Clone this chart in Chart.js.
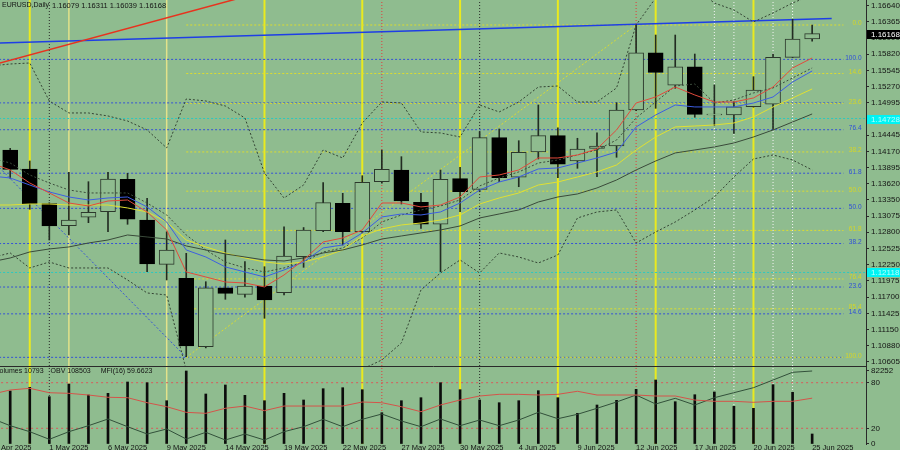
<!DOCTYPE html>
<html>
<head>
<meta charset="utf-8">
<script src="https://cdn.jsdelivr.net/npm/chart.js@4/dist/chart.umd.min.js"></script>
<style>
  html, body { margin: 0; padding: 0; background: #8fbc8f; }
  #wrap { position: relative; width: 900px; height: 450px; overflow: hidden; background: #8fbc8f; }
  #main { position: absolute; left: 0; top: 0; }
  #sub { position: absolute; left: 0; top: 367px; }
</style>
</head>
<body>
<div id="wrap">
  <canvas id="main" width="900" height="367"></canvas>
  <canvas id="sub" width="900" height="83"></canvas>
</div>
<script>
const symbolName = 'EURUSD,Daily';

// daily bars, index 0 = 29 Apr 2025 ... 41 = 25 Jun 2025
const openP = [1.14194, 1.13872, 1.13284, 1.12911, 1.13054, 1.13148, 1.13698, 1.13008, 1.12257, 1.12020,
  1.10860, 1.11860, 1.11748, 1.11889, 1.11776, 1.12386, 1.12826, 1.13291, 1.12809, 1.13657,
  1.13855, 1.13308, 1.12935, 1.13708, 1.13528, 1.14403, 1.13732, 1.14160, 1.14437, 1.14008,
  1.14223, 1.14262, 1.14872, 1.15843, 1.15291, 1.15606, 1.14790, 1.14787, 1.14928, 1.14969,
  1.15765, 1.16079];
const highP = [1.14223, 1.14008, 1.13300, 1.13816, 1.13657, 1.13816, 1.13799, 1.13376, 1.12809, 1.12443,
  1.11962, 1.12669, 1.12301, 1.12216, 1.12894, 1.12880, 1.13640, 1.13460, 1.13759, 1.14194,
  1.14081, 1.13460, 1.13855, 1.13901, 1.14504, 1.14550, 1.14352, 1.14957, 1.14572, 1.14393,
  1.14487, 1.14996, 1.16313, 1.16143, 1.16143, 1.15821, 1.15296, 1.15013, 1.15437, 1.15821,
  1.16409, 1.16311];
const lowP = [1.13715, 1.13189, 1.12669, 1.12754, 1.12962, 1.12809, 1.12935, 1.12132, 1.11991, 1.10691,
  1.10840, 1.11664, 1.11698, 1.11342, 1.11737, 1.12206, 1.12809, 1.12584, 1.12790, 1.13630,
  1.13279, 1.12867, 1.12132, 1.13148, 1.13487, 1.13657, 1.13572, 1.14042, 1.13725, 1.13884,
  1.13742, 1.14071, 1.14860, 1.14901, 1.15240, 1.14749, 1.14606, 1.14477, 1.14920, 1.14545,
  1.15760, 1.16039];
const closeP = [1.13867, 1.13279, 1.12906, 1.13008, 1.13138, 1.13703, 1.13020, 1.12262, 1.12499, 1.10872,
  1.11860, 1.11765, 1.11889, 1.11652, 1.12398, 1.12838, 1.13301, 1.12809, 1.13647, 1.13867,
  1.13330, 1.12935, 1.13698, 1.13487, 1.14403, 1.13725, 1.14155, 1.14437, 1.13952, 1.14211,
  1.14262, 1.14872, 1.15843, 1.15511, 1.15606, 1.14799, 1.14805, 1.14928, 1.15211, 1.15765,
  1.16076, 1.16168];
const volumes = [59560, 63760, 53100, 67500, 55020, 56950, 69770, 68980, 48560, 82252,
  56160, 66370, 54680, 48560, 56950, 49350, 62170, 63300, 61040, 34940,
  48560, 51960, 68980, 61040, 49350, 46290, 48560, 59900, 51960, 34260,
  43680, 49010, 61490, 72040, 47420, 55360, 58430, 42200, 39930, 66710,
  58090, 10793];

// indicator lines start one bar earlier (index -1)
const lineStart = -1;
const maRed = [1.13974, 1.13856, 1.13635, 1.13466, 1.13296, 1.13246, 1.13330, 1.13347, 1.13144, 1.12839,
  1.12127, 1.12042, 1.11957, 1.11940, 1.11873, 1.12076, 1.12330, 1.12635, 1.12703, 1.12839,
  1.13296, 1.13296, 1.13229, 1.13262, 1.13398, 1.13737, 1.13771, 1.13856, 1.14059, 1.14059,
  1.14110, 1.14212, 1.14534, 1.14991, 1.15093, 1.15262, 1.15127, 1.15008, 1.15008, 1.15076,
  1.15262, 1.15585, 1.15754];
const maBlue = [1.13754, 1.13720, 1.13601, 1.13483, 1.13398, 1.13347, 1.13381, 1.13398, 1.13229, 1.12974,
  1.12500, 1.12381, 1.12212, 1.12127, 1.12042, 1.12161, 1.12296, 1.12534, 1.12585, 1.12788,
  1.13059, 1.13110, 1.13093, 1.13144, 1.13296, 1.13517, 1.13652, 1.13737, 1.13873, 1.13890,
  1.13974, 1.14059, 1.14161, 1.14585, 1.14788, 1.14957, 1.14924, 1.14924, 1.14924, 1.14991,
  1.15093, 1.15347, 1.15534];
const maYellow = [1.13262, 1.13262, 1.13279, 1.13279, 1.13262, 1.13262, 1.13262, 1.13212, 1.13144, 1.12974,
  1.12669, 1.12551, 1.12449, 1.12364, 1.12296, 1.12262, 1.12296, 1.12381, 1.12500, 1.12737,
  1.12856, 1.12924, 1.12957, 1.13008, 1.13093, 1.13279, 1.13381, 1.13466, 1.13601, 1.13652,
  1.13737, 1.13822, 1.13940, 1.14195, 1.14415, 1.14585, 1.14601, 1.14618, 1.14652, 1.14754,
  1.14924, 1.15076, 1.15229];
const maDark = [1.12296, 1.12364, 1.12466, 1.12517, 1.12551, 1.12618, 1.12669, 1.12754, 1.12720, 1.12686,
  1.12568, 1.12500, 1.12432, 1.12381, 1.12330, 1.12313, 1.12364, 1.12449, 1.12500, 1.12585,
  1.12686, 1.12737, 1.12788, 1.12839, 1.12907, 1.13042, 1.13110, 1.13178, 1.13313, 1.13398,
  1.13449, 1.13551, 1.13686, 1.13856, 1.14008, 1.14144, 1.14195, 1.14246, 1.14313, 1.14415,
  1.14534, 1.14669, 1.14805];
const bandUpper = [1.15618, 1.15652, 1.15669, 1.15025, 1.14822, 1.14822, 1.14771, 1.14686, 1.14534, 1.14229,
  1.15059, 1.15025, 1.14940, 1.14737, 1.13805, 1.13381, 1.13601, 1.14195, 1.14059, 1.14652,
  1.15008, 1.14991, 1.14500, 1.14483, 1.14415, 1.14957, 1.14839, 1.15008, 1.15262, 1.15279,
  1.15008, 1.15008, 1.15246, 1.16313, 1.16771, 1.16906, 1.16940, 1.16686, 1.16568, 1.16364,
  1.16517, 1.16686, 1.16822];
const bandLower = [1.12364, 1.12449, 1.12195, 1.12296, 1.12195, 1.12195, 1.12195, 1.11991, 1.11771, 1.11737,
  1.10466, 1.09957, 1.09618, 1.09449, 1.09279, 1.09449, 1.09788, 1.10050, 1.10300, 1.10480,
  1.10635, 1.10924, 1.11822, 1.12110, 1.12330, 1.12110, 1.12449, 1.12381, 1.12279, 1.12415,
  1.13042, 1.13144, 1.13178, 1.12618, 1.12805, 1.12974, 1.13178, 1.13398, 1.13737, 1.14042,
  1.14110, 1.14025, 1.13856];
const bandInner = [1.14059, 1.13974, 1.13771, 1.13635, 1.13517, 1.13466, 1.13466, 1.13466, 1.13296, 1.13093,
  1.12754, 1.12500, 1.12296, 1.12195, 1.12127, 1.12195, 1.12296, 1.12466, 1.12534, 1.12703,
  1.12974, 1.13093, 1.13178, 1.13246, 1.13347, 1.13585, 1.13720, 1.13822, 1.13974, 1.14025,
  1.14110, 1.14195, 1.14364, 1.14737, 1.15008, 1.15279, 1.15313, 1.14991, 1.15042, 1.15161,
  1.15246, 1.15415, 1.15585];
const obvLine = [-267500, -329100, -377100, -437900, -377100, -329100, -275500, -337100, -395500, -355500,
  -435500, -381900, -443500, -395500, -443500, -377100, -337100, -277900, -337100, -277900,
  -235500, -291500, -337100, -275500, -329100, -283500, -329100, -283500, -221900, -273100,
  -237900, -189900, -139500, -83500, -155500, -109900, -163500, -105100, -65100, -25100,
  36500, 98100, 108503];
const mfiLine = [64.5, 70.4, 72.6, 66.8, 66.0, 63.8, 60.8, 60.3, 53.7, 48.4,
  41.0, 39.7, 46.3, 49.3, 43.2, 49.3, 49.3, 49.3, 49.3, 54.6,
  53.7, 48.4, 41.8, 50.7, 57.2, 62.5, 64.7, 64.7, 63.8, 64.7,
  68.7, 63.8, 63.8, 63.8, 62.5, 62.5, 57.2, 55.5, 55.5, 54.2,
  55.5, 55.5, 59.6623];
const mfiLevels = [80, 20];

// axis labels
const priceTicks = [1.16640, 1.16365, 1.16090, 1.15820, 1.15545, 1.15270, 1.14995, 1.14720, 1.14445, 1.14170,
  1.13895, 1.13620, 1.13350, 1.13075, 1.12800, 1.12525, 1.12250, 1.11975, 1.11700, 1.11425,
  1.11150, 1.10880, 1.10605];
const tickBars = [-1, 2, 5, 8, 11, 14, 17, 20, 23, 26, 29, 32, 35, 38, 41];
const tickDates = ['28 Apr 2025', '1 May 2025', '6 May 2025', '9 May 2025', '14 May 2025', '19 May 2025',
  '22 May 2025', '27 May 2025', '30 May 2025', '4 Jun 2025', '9 Jun 2025', '12 Jun 2025',
  '17 Jun 2025', '20 Jun 2025', '25 Jun 2025'];

// chart objects
const yellowV = [1, 13, 18, 23, 28, 33, 38];
const paleV = [3, 8];
const blackDotV = [2, 24];
const redDotV = [19, 32];
const whiteDotV = [36, 37, 39, 40];
const fibLevels = [0, 14.6, 23.6, 38.2, 50, 61.8, 76.4, 85.4, 100];
const blueFibBars = [-6, 9];
const blueFibPrices = [1.15730, 1.10680];
const yellowFibBars = [9, 32];
const yellowFibPrices = [1.10680, 1.16313];
const tealLevels = [1.14728, 1.12118];
const redTrendBars = [-1, 12];
const redTrendPrices = [1.15627, 1.16793];
const blueTrendBars = [-1, 42];
const blueTrendPrices = [1.16003, 1.16423];

// scale ranges matched to the 900x450 frame
const X_MIN = -0.5215, X_MAX = 43.753, FIB_END = 42.6;
const Y_MIN = 1.105332, Y_MAX = 1.167366;
const MFI_MIN = -0.658, MFI_MAX = 100.658;
const VOL_MIN = -567, VOL_MAX = 86790;
const OBV_MIN = -475497, OBV_MAX = 140503;

const BG = '#8fbc8f';
const FONT = "'Liberation Sans', Arial, sans-serif";
Chart.defaults.font.family = FONT;
Chart.defaults.color = '#141414';

const bars = openP.map((_, i) => i);
const fromStart = arr => arr.map((v, k) => ({ x: k + lineStart, y: v }));
const pair = (xs, ys) => [{ x: xs[0], y: ys[0] }, { x: xs[1], y: ys[1] }];
const bluePrice = l => blueFibPrices[1] + l / 100 * (blueFibPrices[0] - blueFibPrices[1]);
const yellowPrice = l => yellowFibPrices[1] - l / 100 * (yellowFibPrices[1] - yellowFibPrices[0]);

// scales must not push the plot area in for their edge labels
function noPad(s) {
  s.paddingLeft = 0; s.paddingRight = 0; s.paddingTop = 0; s.paddingBottom = 0;
}

function lineSet(data, color, width, dash, order, axis) {
  const s = { type: 'line', data, borderColor: color, borderWidth: width, borderDash: dash || [],
    pointRadius: 0, tension: 0, fill: false, order };
  if (axis) s.yAxisID = axis;
  return s;
}

function verticals(lo, hi) {
  const out = [];
  const add = (list, color, width, dash) => list.forEach(b =>
    out.push(lineSet([{ x: b, y: lo }, { x: b, y: hi }], color, width, dash, 30)));
  add(paleV, '#e2e28a', 1.5, []);
  add(yellowV, '#eaea1e', 2, []);
  add(blackDotV, '#2a2a2a', 1, [1, 2]);
  add(redDotV, '#e23c3c', 1, [1, 2]);
  add(whiteDotV, '#f4f4f4', 1, [1, 2]);
  return out;
}

// ---------- main price panel ----------
const mainSets = verticals(Y_MIN, Y_MAX);
fibLevels.forEach(l => {
  const p = bluePrice(l);
  mainSets.push(lineSet([{ x: -2, y: p }, { x: FIB_END, y: p }], '#3552d6', 1, [2, 2], 25));
});
fibLevels.forEach(l => {
  const p = yellowPrice(l);
  mainSets.push(lineSet([{ x: yellowFibBars[0], y: p }, { x: FIB_END, y: p }], '#dcdc30', 1, [2, 2], 24));
});
tealLevels.forEach(p => mainSets.push(lineSet([{ x: -2, y: p }, { x: 45, y: p }], '#2ec8c0', 1, [2, 2], 24)));
mainSets.push(lineSet(pair(blueFibBars, blueFibPrices), '#3552d6', 1, [2, 2], 23));
mainSets.push(lineSet(pair(yellowFibBars, yellowFibPrices), '#dcdc30', 1, [2, 2], 23));
mainSets.push(lineSet(pair(redTrendBars, redTrendPrices), '#e8321e', 1.5, [], 22));
mainSets.push(lineSet(pair(blueTrendBars, blueTrendPrices), '#1e3ee6', 1.5, [], 22));

mainSets.push({
  type: 'bar', data: bars.map(i => ({ x: i, y: [lowP[i], highP[i]] })),
  backgroundColor: '#222c22', borderWidth: 0, barThickness: 1, grouped: false, order: 6
});
mainSets.push({
  type: 'bar', data: bars.map(i => ({ x: i, y: [openP[i], closeP[i]] })),
  backgroundColor: bars.map(i => closeP[i] >= openP[i] ? BG : '#000000'),
  borderColor: bars.map(i => closeP[i] >= openP[i] ? '#2c382c' : '#000000'),
  borderWidth: 1, borderSkipped: false, barThickness: 15, grouped: false, order: 5
});

mainSets.push(lineSet(fromStart(bandUpper), '#344434', 1, [2, 2], 4));
mainSets.push(lineSet(fromStart(bandLower), '#344434', 1, [2, 2], 4));
mainSets.push(lineSet(fromStart(bandInner), '#3c4c3c', 1, [2, 2], 4));
mainSets.push(lineSet(fromStart(maDark), '#3a4a3a', 1, [], 3));
mainSets.push(lineSet(fromStart(maYellow), '#e0e032', 1, [], 3));
mainSets.push(lineSet(fromStart(maBlue), '#3d5ee2', 1, [], 2));
mainSets.push(lineSet(fromStart(maRed), '#e24a3c', 1, [], 1));

const mainText = {
  id: 'mainText',
  afterDraw(chart) {
    const { ctx } = chart;
    const x = chart.scales.x, y = chart.scales.y;
    const last = closeP.length - 1;
    ctx.save();
    ctx.fillStyle = '#141414';
    ctx.textBaseline = 'middle';
    ctx.font = '7px ' + FONT;
    ctx.fillText(symbolName, 2, 5.5);
    ctx.font = '7.5px ' + FONT;
    ctx.fillText([openP[last], highP[last], lowP[last], closeP[last]].map(v => v.toFixed(5)).join(' '), 52, 5.5);

    // fibonacci captions
    ctx.font = '6.5px ' + FONT;
    ctx.textAlign = 'right';
    ctx.textBaseline = 'alphabetic';
    const xr = x.right - 4.5;
    const yellowY = fibLevels.map(l => y.getPixelForValue(yellowPrice(l)));
    ctx.fillStyle = '#2f4fd8';
    fibLevels.forEach(l => {
      const py = y.getPixelForValue(bluePrice(l));
      if (yellowY.some(v => Math.abs(v - py) < 5)) return;
      ctx.fillText(l.toFixed(1), xr, py + 0.5);
    });
    ctx.fillStyle = '#d6d626';
    fibLevels.forEach((l, k) => ctx.fillText(l.toFixed(1), xr, yellowY[k] + 0.5));

    // price boxes on the axis
    const box = (price, fill, color) => {
      const py = y.getPixelForValue(price);
      ctx.fillStyle = fill;
      ctx.fillRect(y.left + 1, Math.round(py) - 4, chart.width - y.left - 1, 9);
      ctx.fillStyle = color;
      ctx.textAlign = 'left';
      ctx.textBaseline = 'middle';
      ctx.font = '8px ' + FONT;
      ctx.fillText(price.toFixed(5), y.left + 5, Math.round(py) + 0.5);
    };
    tealLevels.forEach(p => box(p, '#00f4f4', '#b4ffff'));
    box(closeP[last], '#000000', '#ffffff');
    ctx.restore();
  }
};

new Chart(document.getElementById('main'), {
  type: 'bar',
  data: { datasets: mainSets },
  options: {
    responsive: false, animation: false, events: [],
    layout: { autoPadding: false, padding: 0 },
    plugins: { legend: { display: false }, tooltip: { enabled: false } },
    scales: {
      x: {
        type: 'linear', min: X_MIN, max: X_MAX, offset: false,
        ticks: { display: false }, grid: { display: false, drawTicks: false },
        border: { display: true, color: '#2a2a2a', width: 1 },
        afterFit: s => { s.height = 1; noPad(s); }
      },
      y: {
        type: 'linear', position: 'right', min: Y_MIN, max: Y_MAX, beginAtZero: false,
        afterBuildTicks: s => { s.ticks = priceTicks.map(v => ({ value: v })); },
        ticks: { autoSkip: false, padding: 2, font: { size: 8 }, color: '#141414', callback: v => v.toFixed(5) },
        grid: { drawOnChartArea: false, drawTicks: true, tickLength: 3, color: '#2a2a2a' },
        border: { display: true, color: '#2a2a2a', width: 1 },
        afterFit: s => { s.width = 34; noPad(s); }
      }
    }
  },
  plugins: [mainText]
});

// ---------- volume / OBV / MFI panel ----------
const maxVol = Math.max(...volumes);
const volTick = MFI_MIN + (maxVol - VOL_MIN) / (VOL_MAX - VOL_MIN) * (MFI_MAX - MFI_MIN);

const subSets = verticals(MFI_MIN, MFI_MAX);
mfiLevels.forEach(v => subSets.push(lineSet([{ x: -2, y: v }, { x: 45, y: v }], '#d85a5a', 1, [2, 3], 25)));
subSets.push({
  type: 'bar', yAxisID: 'yv', data: bars.map(i => ({ x: i, y: volumes[i] })),
  backgroundColor: '#0c0c0c', borderWidth: 0, barThickness: 2, grouped: false, order: 5
});
subSets.push(lineSet(fromStart(obvLine), '#32503a', 1, [], 2, 'yo'));
subSets.push(lineSet(fromStart(mfiLine), '#d4544a', 1, [], 1, 'y'));

const subText = {
  id: 'subText',
  afterDraw(chart) {
    const { ctx } = chart;
    const last = volumes.length - 1;
    ctx.save();
    ctx.fillStyle = '#141414';
    ctx.textBaseline = 'middle';
    ctx.font = '7px ' + FONT;
    let xx = -ctx.measureText('V').width;
    const parts = ['Volumes ' + volumes[last], 'OBV ' + obvLine[obvLine.length - 1], 'MFI(16) ' + mfiLine[mfiLine.length - 1].toFixed(4)];
    parts.forEach((t, k) => {
      ctx.fillText(t, xx, 4);
      xx += ctx.measureText(t).width + (k === 0 ? 7 : 10);
    });
    ctx.restore();
  }
};

new Chart(document.getElementById('sub'), {
  type: 'bar',
  data: { datasets: subSets },
  options: {
    responsive: false, animation: false, events: [],
    layout: { autoPadding: false, padding: 0 },
    plugins: { legend: { display: false }, tooltip: { enabled: false } },
    scales: {
      x: {
        type: 'linear', min: X_MIN, max: X_MAX, offset: false,
        afterBuildTicks: s => { s.ticks = tickBars.map(v => ({ value: v })); },
        ticks: { autoSkip: false, maxRotation: 0, align: 'start', padding: 0, color: '#141414',
          font: { size: 7.5, lineHeight: 1 }, callback: (v, i) => tickDates[i] },
        grid: { display: false, drawTicks: false },
        border: { display: false },
        afterFit: s => { s.height = 6; noPad(s); }
      },
      y: {
        type: 'linear', position: 'right', min: MFI_MIN, max: MFI_MAX, beginAtZero: false,
        afterBuildTicks: s => { s.ticks = [0, 20, 80, volTick].map(v => ({ value: v })); },
        ticks: { autoSkip: false, padding: 2, font: { size: 8 }, color: '#141414',
          callback: (v, i) => i === 3 ? String(maxVol) : String(v) },
        grid: { drawOnChartArea: false, drawTicks: true, tickLength: 3, color: '#2a2a2a' },
        border: { display: true, color: '#2a2a2a', width: 1 },
        afterFit: s => { s.width = 34; noPad(s); }
      },
      yv: { type: 'linear', display: false, min: VOL_MIN, max: VOL_MAX, beginAtZero: false },
      yo: { type: 'linear', display: false, min: OBV_MIN, max: OBV_MAX, beginAtZero: false }
    }
  },
  plugins: [subText]
});
</script>
</body>
</html>
